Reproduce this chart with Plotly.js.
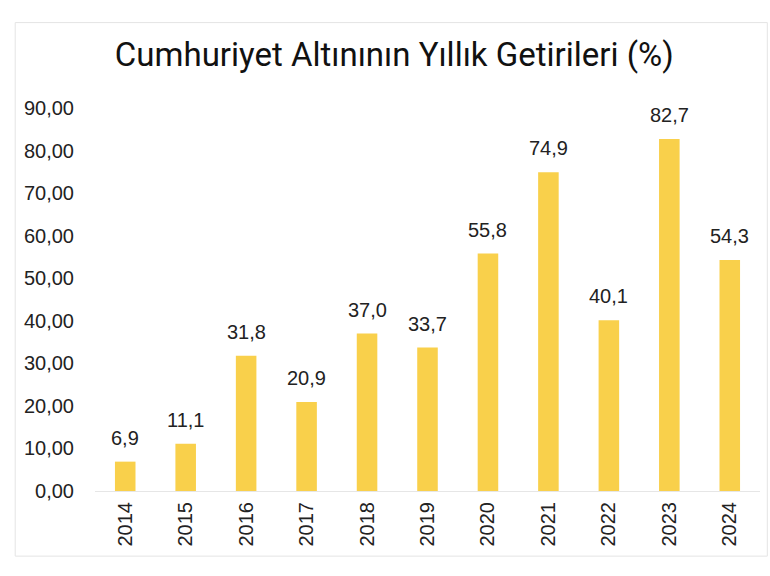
<!DOCTYPE html>
<html><head><meta charset="utf-8">
<script src="https://cdn.plot.ly/plotly-3.0.1.min.js"></script>
<style>html,body{margin:0;padding:0;background:#fff}#c{width:770px;height:576px}</style>
</head><body><div id="c"></div>
<script>
const years = ["2014","2015","2016","2017","2018","2019","2020","2021","2022","2023","2024"];
const returns = [6.9, 11.1, 31.8, 20.9, 37.0, 33.7, 55.8, 74.9, 40.1, 82.7, 54.3];
const yTicks = [0,10,20,30,40,50,60,70,80,90];

const FONT = 'Liberation Sans, Arial, sans-serif';
const trace = {
  type: 'bar', x: years, y: returns,
  marker: {color: '#F9D04B'},
  hoverinfo: 'none'
};
const labels = years.map((yr, i) => ({
  x: i, y: returns[i], xref: 'x', yref: 'y',
  text: returns[i].toFixed(1).replace('.', ','),
  showarrow: false, yanchor: 'bottom', yshift: 11,
  font: {family: FONT, size: 20, color: '#222'}
}));
const layout = {
  width: 770, height: 576,
  margin: {l: 95, r: 10, t: 108, b: 85},
  paper_bgcolor: '#fff', plot_bgcolor: '#fff',
  separators: ',.',
  bargap: 0.66,
  showlegend: false,
  title: {text: 'Cumhuriyet Altınının Yıllık Getirileri (%)', x: 0.512, xanchor: 'center', y: 0.905, yanchor: 'middle',
    font: {family: 'Roboto, Noto Sans, sans-serif', size: 33, color: '#111'}},
  xaxis: {type: 'category', range: [-0.5, years.length - 0.5], tickangle: -90, showgrid: false, zeroline: false, showline: false, ticks: '',
    ticklabelstandoff: 6,
    tickfont: {family: FONT, size: 20, color: '#222'}},
  yaxis: {range: [0, 90], tickvals: yTicks, tickformat: '.2f', showgrid: false, zeroline: true, zerolinecolor: '#e6e6e6', zerolinewidth: 1,
    showline: false, ticks: '', ticklabelstandoff: 20,
    tickfont: {family: FONT, size: 20, color: '#222'}},
  annotations: labels,
  shapes: [{type: 'rect', xref: 'paper', yref: 'paper', x0: -0.12, x1: 1.011, y0: -0.17, y1: 1.223,
    line: {color: '#e4e4e4', width: 1}, fillcolor: 'rgba(0,0,0,0)'}]
};
Plotly.newPlot('c', [trace], layout, {displayModeBar: false, staticPlot: true});
</script></body></html>
